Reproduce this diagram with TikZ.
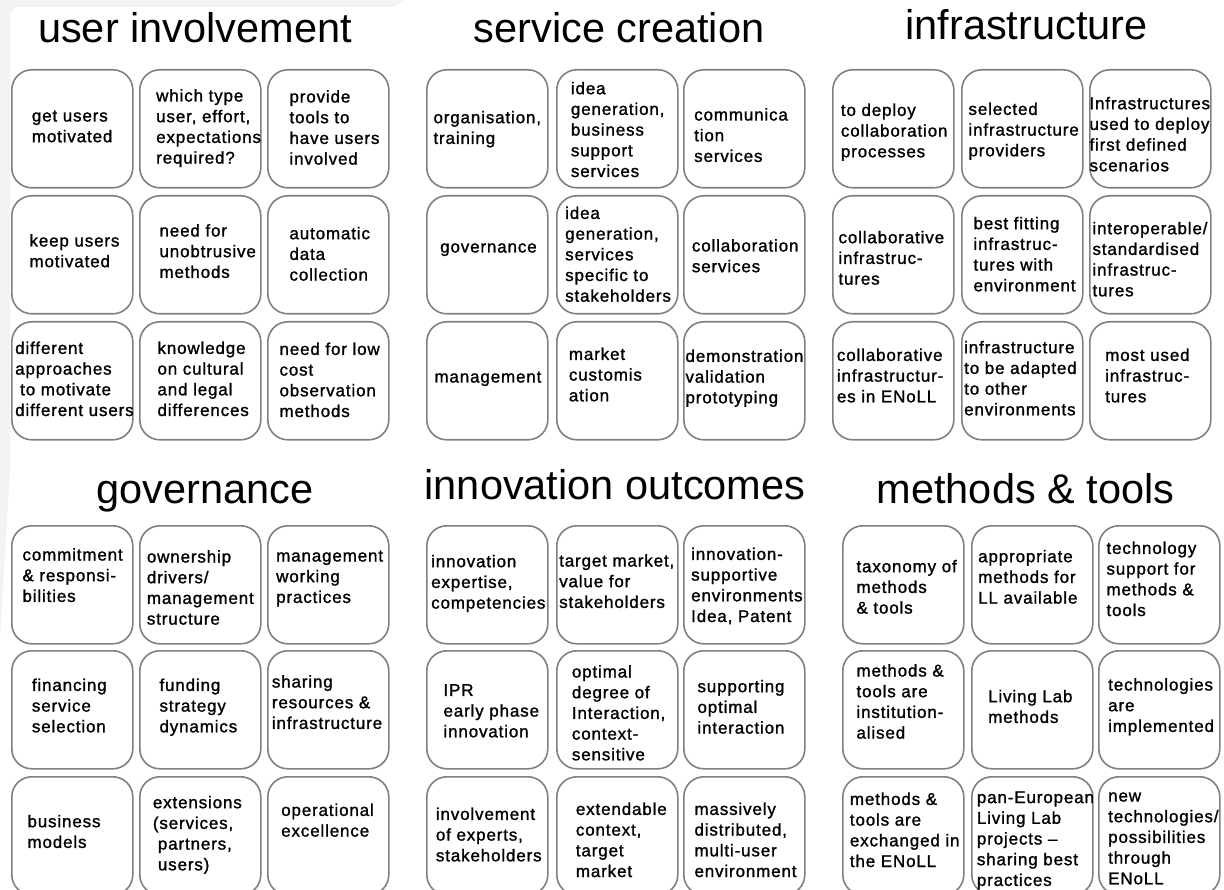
\documentclass[tikz,border=0pt]{standalone}
\usepackage{fontspec}
\setmainfont{Liberation Sans}
\newfontfamily\boxfam[LetterSpace=5,FakeBold=1.3]{Liberation Sans}
\newcommand\boxfont{\boxfam\fontsize{17}{20.7}\selectfont}
\newcommand\titlefont{\fontsize{41.5}{48}\selectfont}
\definecolor{boxgray}{RGB}{128,128,128}
\definecolor{wmgray}{RGB}{243,243,243}
\tikzset{
  cellframe/.style={draw=boxgray, line width=1.6pt, rounded corners=20pt,
    minimum width=121pt, minimum height=118pt, inner sep=0pt, anchor=north west},
  celltxt/.style={anchor=north west, inner sep=0pt, align=left, font=\boxfont},
  paneltitle/.style={anchor=base, inner sep=0pt, font=\titlefont}
}
\newcommand{\cellbox}[3]{\node[cellframe] (#1) at (#2,#3) {};}
\newcommand{\celltext}[4]{\node[celltxt] (#1) at (#2,#3-14.49) {\strut #4};}
\begin{document}
\begin{tikzpicture}[x=1pt,y=-1pt]
\useasboundingbox (0,0) rectangle (1224,890);
\clip (0,0) rectangle (1224,890);
\fill[wmgray] (0,0) -- (404,0) -- (394,7) -- (16,7) -- (10,14) -- (10,470) -- (0,640) -- cycle;
% titles
\node[paneltitle] (t1) at (195,42.5) {user involvement};
\node[paneltitle] (t2) at (619,42.5) {service creation};
\node[paneltitle] (t3) at (1026.5,39.5) {infrastructure};
\node[paneltitle] (t4) at (205,503) {governance};
\node[paneltitle] (t5) at (615,500) {innovation outcomes};
\node[paneltitle] (t6) at (1025.5,503) {methods \& tools};
% ---------- panel 1: user involvement
\cellbox{p1a1}{11}{69} \cellbox{p1a2}{139}{69} \cellbox{p1a3}{267}{69}
\cellbox{p1b1}{11}{195} \cellbox{p1b2}{139}{195} \cellbox{p1b3}{267}{195}
\cellbox{p1c1}{11}{321} \cellbox{p1c2}{139}{321} \cellbox{p1c3}{267}{321}
\celltext{x1a1}{31.7}{121.3}{get users\\motivated}
\celltext{x1a2}{156}{101.3}{which type\\user, effort,\\expectations\\required?}
\celltext{x1a3}{289.3}{102.3}{provide\\tools to\\have users\\involved}
\celltext{x1b1}{29.3}{246.3}{keep users\\motivated}
\celltext{x1b2}{159.3}{236.3}{need for\\unobtrusive\\methods}
\celltext{x1b3}{289.3}{239}{automatic\\data\\collection}
\celltext{x1c1}{15}{353.7}{different\\approaches\\\hspace*{5pt}to motivate\\different users}
\celltext{x1c2}{157.3}{353.7}{knowledge\\on cultural\\and legal\\differences}
\celltext{x1c3}{279.3}{354.7}{need for low\\cost\\observation\\methods}
% ---------- panel 2: service creation
\cellbox{p2a1}{426}{69} \cellbox{p2a2}{556}{69} \cellbox{p2a3}{683}{69}
\cellbox{p2b1}{426}{195} \cellbox{p2b2}{556}{195} \cellbox{p2b3}{683}{195}
\cellbox{p2c1}{426}{321} \cellbox{p2c2}{556}{321} \cellbox{p2c3}{683}{321}
\celltext{x2a1}{433.3}{123}{organisation,\\training}
\celltext{x2a2}{570.7}{94}{idea\\generation,\\business\\support\\services}
\celltext{x2a3}{694}{120.3}{communica\\tion\\services}
\celltext{x2b1}{440}{252.3}{governance}
\celltext{x2b2}{565}{218.7}{idea\\generation,\\services\\specific to\\stakeholders}
\celltext{x2b3}{691.7}{251.3}{collaboration\\services}
\celltext{x2c1}{434.3}{382.3}{management}
\celltext{x2c2}{568.7}{359.7}{market\\customis\\ation}
\celltext{x2c3}{685.3}{361.7}{demonstration\\validation\\prototyping}
% ---------- panel 3: infrastructure
\cellbox{p3a1}{832}{69} \cellbox{p3a2}{961}{69} \cellbox{p3a3}{1089}{69}
\cellbox{p3b1}{832}{195} \cellbox{p3b2}{961}{195} \cellbox{p3b3}{1089}{195}
\cellbox{p3c1}{832}{321} \cellbox{p3c2}{961}{321} \cellbox{p3c3}{1089}{321}
\celltext{x3a1}{840.7}{115.7}{to deploy\\collaboration\\processes}
\celltext{x3a2}{968.3}{114.7}{selected\\infrastructure\\providers}
\celltext{x3a3}{1089.3}{109}{Infrastructures\\used to deploy\\first defined\\scenarios}
\celltext{x3b1}{838.3}{243}{collaborative\\infrastruc-\\tures}
\celltext{x3b2}{973.3}{229}{best fitting\\infrastruc-\\tures with\\environment}
\celltext{x3b3}{1092.3}{234}{interoperable/\\standardised\\infrastruc-\\tures}
\celltext{x3c1}{836.7}{360.7}{collaborative\\infrastructur-\\es in ENoLL}
\celltext{x3c2}{964}{353}{infrastructure\\to be adapted\\to other\\environments}
\celltext{x3c3}{1105}{360.7}{most used\\infrastruc-\\tures}
% ---------- panel 4: governance
\cellbox{p4a1}{11}{525} \cellbox{p4a2}{139}{525} \cellbox{p4a3}{267}{525}
\cellbox{p4b1}{11}{650} \cellbox{p4b2}{139}{650} \cellbox{p4b3}{267}{650}
\cellbox{p4c1}{11}{776} \cellbox{p4c2}{139}{776} \cellbox{p4c3}{267}{776}
\celltext{x4a1}{22.3}{560.3}{commitment\\\& responsi-\\bilities}
\celltext{x4a2}{146.7}{562.3}{ownership\\drivers/\\management\\structure}
\celltext{x4a3}{276}{561.3}{management\\working\\practices}
\celltext{x4b1}{31.7}{690.7}{financing\\service\\selection}
\celltext{x4b2}{159.3}{690.7}{funding\\strategy\\dynamics}
\celltext{x4b3}{271.7}{687.3}{sharing\\resources \&\\infrastructure}
\celltext{x4c1}{27.3}{827}{business\\models}
\celltext{x4c2}{152.7}{808}{extensions\\(services,\\\hspace*{5pt}partners,\\\hspace*{5pt}users)}
\celltext{x4c3}{281}{815.7}{operational\\excellence}
% ---------- panel 5: innovation outcomes
\cellbox{p5a1}{426}{525} \cellbox{p5a2}{556}{525} \cellbox{p5a3}{683}{525}
\cellbox{p5b1}{426}{650} \cellbox{p5b2}{556}{650} \cellbox{p5b3}{683}{650}
\cellbox{p5c1}{426}{776} \cellbox{p5c2}{556}{776} \cellbox{p5c3}{683}{776}
\celltext{x5a1}{431}{567}{innovation\\expertise,\\competencies}
\celltext{x5a2}{559}{566.3}{target market,\\value for\\stakeholders}
\celltext{x5a3}{691}{559.7}{innovation-\\supportive\\environments\\Idea, Patent}
\celltext{x5b1}{443.3}{695.7}{IPR\\early phase\\innovation}
\celltext{x5b2}{571.7}{677.3}{optimal\\degree of\\Interaction,\\context-\\sensitive}
\celltext{x5b3}{697.3}{692}{supporting\\optimal\\interaction}
\celltext{x5c1}{435.7}{819.7}{involvement\\of experts,\\stakeholders}
\celltext{x5c2}{575.7}{814.7}{extendable\\context,\\target\\market}
\celltext{x5c3}{694.3}{814.7}{massively\\distributed,\\multi-user\\environment}
% ---------- panel 6: methods & tools
\cellbox{p6a1}{842}{525} \cellbox{p6a2}{971}{525} \cellbox{p6a3}{1098}{525}
\cellbox{p6b1}{842}{650} \cellbox{p6b2}{971}{650} \cellbox{p6b3}{1098}{650}
\cellbox{p6c1}{842}{776} \cellbox{p6c2}{971}{776} \cellbox{p6c3}{1098}{776}
\celltext{x6a1}{856.3}{572}{taxonomy of\\methods\\\& tools}
\celltext{x6a2}{978}{562}{appropriate\\methods for\\LL available}
\celltext{x6a3}{1106.3}{553.7}{technology\\support for\\methods \&\\tools}
\celltext{x6b1}{856.3}{676.3}{methods \&\\tools are\\institution-\\alised}
\celltext{x6b2}{988}{702}{Living Lab\\methods}
\celltext{x6b3}{1108}{690.3}{technologies\\are\\implemented}
\celltext{x6c1}{849.7}{804.7}{methods \&\\tools are\\exchanged in\\the ENoLL}
\celltext{x6c2}{976.7}{802.9}{pan-European\\Living Lab\\projects –\\sharing best\\practices}
\celltext{x6c3}{1108}{801.3}{new\\technologies/\\possibilities\\through\\ENoLL}
\end{tikzpicture}
\end{document}
